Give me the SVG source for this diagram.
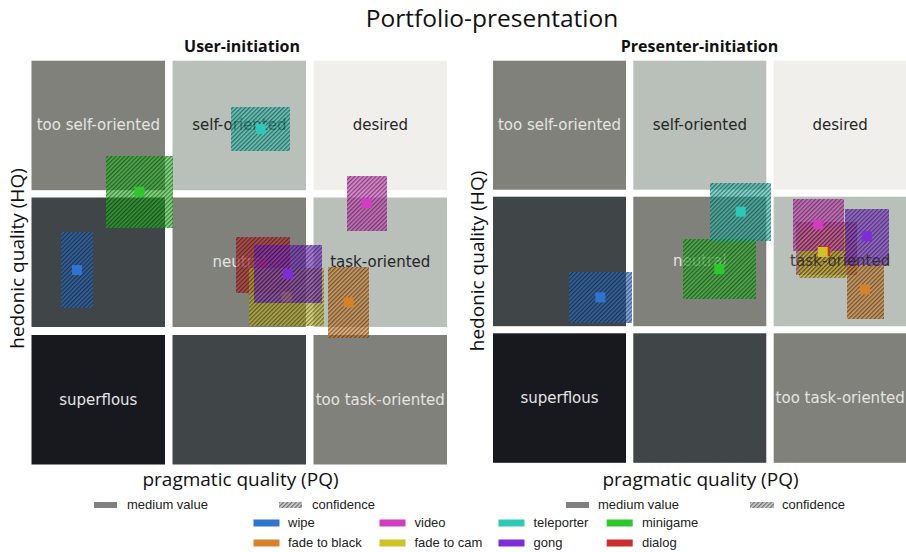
<svg xmlns="http://www.w3.org/2000/svg" width="906" height="552" viewBox="0 0 906 552">
<style>
.title{font-family:"Open Sans","Liberation Sans",sans-serif;font-size:24.5px;fill:#111;text-anchor:middle}
.sub{font-family:"Open Sans","Liberation Sans",sans-serif;font-size:16px;font-weight:bold;fill:#111;text-anchor:middle}
.ax{font-family:"Open Sans","Liberation Sans",sans-serif;font-size:19px;fill:#111;text-anchor:middle}
.lbl{font-family:"DejaVu Sans","Liberation Sans",sans-serif;font-size:15px;text-anchor:middle}
.lt{fill:#e4e4e4}.dk{fill:#262626}
.leg{font-family:"Liberation Sans","Arial",sans-serif;font-size:13px;fill:#222}
.g1{fill:#80817a}.g2{fill:#b9bfb9}.g3{fill:#f0efeb}.g4{fill:#404548}.g5{fill:#18191f}
.cf{fill-opacity:.6}
.ht{fill:url(#h)}
.wipe{fill:#2f74d0}.black{fill:#d78228}.video{fill:#d23cc0}.cam{fill:#cdc228}
.tele{fill:#2ec8b8}.gong{fill:#7d2dd7}.mini{fill:#2cc82c}.dialog{fill:#cd2d2d}
</style>
<defs>
<pattern id="h" width="3" height="3" patternUnits="userSpaceOnUse" patternTransform="rotate(45)">
<rect width="1.3" height="3" fill="#000" fill-opacity=".45"/>
</pattern>
<pattern id="hl" width="3" height="3" patternUnits="userSpaceOnUse" patternTransform="rotate(45)">
<rect width="3" height="3" fill="#d0d0d0"/>
<rect width="1.3" height="3" fill="#707070"/>
</pattern>
</defs>
<rect width="906" height="552" fill="#fff"/>
<text class="title" x="492" y="27">Portfolio-presentation</text>

<g id="user-initiation">
<text class="sub" x="242" y="51.7">User-initiation</text>
<g id="u-cells">
<rect class="g1" x="31.5" y="60.7" width="133.5" height="129.5"/>
<rect class="g2" x="172.5" y="60.7" width="133.5" height="129.5"/>
<rect class="g3" x="313.5" y="60.7" width="133.5" height="129.5"/>
<rect class="g4" x="31.5" y="197.5" width="133.5" height="129.5"/>
<rect class="g1" x="172.5" y="197.5" width="133.5" height="129.5"/>
<rect class="g2" x="313.5" y="197.5" width="133.5" height="129.5"/>
<rect class="g5" x="31.5" y="335" width="133.5" height="129.5"/>
<rect class="g4" x="172.5" y="335" width="133.5" height="129.5"/>
<rect class="g1" x="313.5" y="335" width="133.5" height="129.5"/>
<text class="lbl lt" x="98.3" y="130">too self-oriented</text>
<text class="lbl dk" x="239.3" y="130">self-oriented</text>
<text class="lbl dk" x="380.3" y="130">desired</text>
<text class="lbl lt" x="239.3" y="267">neutral</text>
<text class="lbl dk" x="380.3" y="267">task-oriented</text>
<text class="lbl lt" x="98.3" y="404.5">superflous</text>
<text class="lbl lt" x="380.3" y="404.5">too task-oriented</text>
</g>
<g id="u-wipe"><rect class="wipe cf" x="61" y="232" width="32" height="76"/><rect class="ht" x="61" y="232" width="32" height="76"/><rect class="wipe" x="72" y="265" width="10" height="10"/></g>
<g id="u-minigame"><rect class="mini cf" x="106" y="156" width="67" height="72"/><rect class="ht" x="106" y="156" width="67" height="72"/><rect class="mini" x="134.3" y="186.7" width="10" height="10"/></g>
<g id="u-teleporter"><rect class="tele cf" x="231" y="107" width="59" height="44"/><rect class="ht" x="231" y="107" width="59" height="44"/><rect class="tele" x="255.7" y="124" width="10" height="10"/></g>
<g id="u-video"><rect class="video cf" x="347" y="176" width="40" height="55"/><rect class="ht" x="347" y="176" width="40" height="55"/><rect class="video" x="361.7" y="198.3" width="10" height="10"/></g>
<g id="u-dialog"><rect class="dialog cf" x="236" y="237" width="54" height="56"/><rect class="ht" x="236" y="237" width="54" height="56"/><rect class="dialog" x="257.7" y="259" width="10" height="10"/></g>
<g id="u-fadecam"><rect class="cam cf" x="249" y="268" width="75" height="58"/><rect class="ht" x="249" y="268" width="75" height="58"/><rect class="cam" x="281.7" y="291.7" width="10" height="10"/></g>
<g id="u-gong"><rect class="gong cf" x="254" y="245" width="68" height="58"/><rect class="ht" x="254" y="245" width="68" height="58"/><rect class="gong" x="283" y="269" width="10" height="10"/></g>
<g id="u-fadeblack"><rect class="black cf" x="328" y="267" width="41" height="71"/><rect class="ht" x="328" y="267" width="41" height="71"/><rect class="black" x="343.7" y="297.5" width="10" height="10"/></g>
<text class="ax" transform="translate(23.5,258.5) rotate(-90)">hedonic quality (HQ)</text>
<text class="ax" x="240.5" y="485.5">pragmatic quality (PQ)</text>
</g>

<g id="presenter-initiation">
<text class="sub" x="699.5" y="51.7">Presenter-initiation</text>
<g id="p-cells">
<rect class="g1" x="493" y="60.7" width="133" height="129"/>
<rect class="g2" x="633.3" y="60.7" width="133" height="129"/>
<rect class="g3" x="773.7" y="60.7" width="133" height="129"/>
<rect class="g4" x="493" y="196.7" width="133" height="129.5"/>
<rect class="g1" x="633.3" y="196.7" width="133" height="129.5"/>
<rect class="g2" x="773.7" y="196.7" width="133" height="129.5"/>
<rect class="g5" x="493" y="333.3" width="133" height="129.5"/>
<rect class="g4" x="633.3" y="333.3" width="133" height="129.5"/>
<rect class="g1" x="773.7" y="333.3" width="133" height="129.5"/>
<text class="lbl lt" x="559.5" y="129.5">too self-oriented</text>
<text class="lbl dk" x="699.8" y="129.5">self-oriented</text>
<text class="lbl dk" x="840.2" y="129.5">desired</text>
<text class="lbl lt" x="699.8" y="266">neutral</text>
<text class="lbl lt" x="559.5" y="402.5">superflous</text>
<text class="lbl lt" x="840.2" y="402.5">too task-oriented</text>
</g>
<g id="p-wipe"><rect class="wipe cf" x="569" y="272" width="63" height="51"/><rect class="ht" x="569" y="272" width="63" height="51"/><rect class="wipe" x="595.3" y="292.3" width="10" height="10"/></g>
<g id="p-minigame"><rect class="mini cf" x="683" y="239" width="73" height="60"/><rect class="ht" x="683" y="239" width="73" height="60"/><rect class="mini" x="714.3" y="264" width="10" height="10"/></g>
<g id="p-teleporter"><rect class="tele cf" x="710" y="183" width="61" height="58"/><rect class="ht" x="710" y="183" width="61" height="58"/><rect class="tele" x="735.7" y="206.7" width="10" height="10"/></g>
<g id="p-dialog"><rect class="dialog" fill-opacity=".35" x="796" y="222" width="61" height="53"/><rect class="ht" x="796" y="222" width="61" height="53"/></g>
<g id="p-fadecam"><rect class="cam cf" x="799" y="228" width="47" height="50"/><rect class="ht" x="799" y="228" width="47" height="50"/></g>
<g id="p-video"><rect class="video cf" x="793" y="199" width="51" height="52"/><rect class="ht" x="793" y="199" width="51" height="52"/><rect class="video" x="813.3" y="219.5" width="10" height="10"/></g>
<g id="p-gong"><rect class="gong cf" x="845" y="209" width="44" height="56"/><rect class="ht" x="845" y="209" width="44" height="56"/><rect class="gong" x="861.7" y="231.3" width="10" height="10"/></g>
<g id="p-fadeblack"><rect class="black cf" x="847" y="265" width="37" height="54"/><rect class="ht" x="847" y="265" width="37" height="54"/><rect class="black" x="860" y="284.5" width="10" height="10"/></g>
<g id="p-markers"><rect class="dialog" x="820" y="246" width="10" height="10"/><rect class="cam" x="817.7" y="247" width="10" height="10"/></g>
<text class="lbl dk" x="840.2" y="266" fill-opacity=".85">task-oriented</text>
<text class="ax" transform="translate(484,261) rotate(-90)">hedonic quality (HQ)</text>
<text class="ax" x="700.5" y="485.5">pragmatic quality (PQ)</text>
</g>

<g id="legend">
<rect x="94" y="502" width="23" height="6" fill="#808080"/><text class="leg" x="127" y="508.5">medium value</text>
<rect x="279" y="502" width="23" height="6" fill="url(#hl)"/><text class="leg" x="312" y="508.5">confidence</text>
<rect x="566" y="502" width="23" height="6" fill="#808080"/><text class="leg" x="598" y="508.5">medium value</text>
<rect x="750" y="502" width="24" height="6" fill="url(#hl)"/><text class="leg" x="782" y="508.5">confidence</text>
<rect class="wipe" x="253.5" y="519.5" width="26" height="7"/><text class="leg" x="288" y="527">wipe</text>
<rect class="video" x="379.5" y="519.5" width="26" height="7"/><text class="leg" x="414.5" y="527">video</text>
<rect class="tele" x="498.5" y="519.5" width="26" height="7"/><text class="leg" x="533.5" y="527">teleporter</text>
<rect class="mini" x="606.7" y="519.5" width="26" height="7"/><text class="leg" x="642" y="527">minigame</text>
<rect class="black" x="253.5" y="539.5" width="26" height="7"/><text class="leg" x="288" y="547">fade to black</text>
<rect class="cam" x="379.5" y="539.5" width="26" height="7"/><text class="leg" x="414.5" y="547">fade to cam</text>
<rect class="gong" x="498.5" y="539.5" width="26" height="7"/><text class="leg" x="533.5" y="547">gong</text>
<rect class="dialog" x="606.7" y="539.5" width="26" height="7"/><text class="leg" x="642" y="547">dialog</text>
</g>
</svg>
